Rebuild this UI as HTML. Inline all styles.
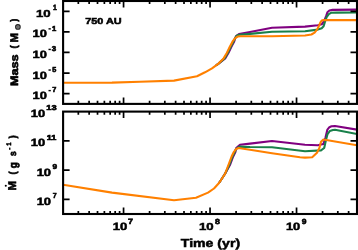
<!DOCTYPE html><html><head><meta charset="utf-8"><style>html,body{margin:0;padding:0;background:#fff;}body{width:358px;height:250px;overflow:hidden;}svg{display:block;will-change:transform;}text{font-family:"Liberation Sans",sans-serif;font-weight:bold;fill:#000;stroke:#000;stroke-width:0.5px;text-rendering:geometricPrecision;}</style></head><body>
<svg width="358" height="250" viewBox="0 0 358 250">
<rect x="0" y="0" width="358" height="250" fill="#fff"/>
<defs><clipPath id="c1"><rect x="63.10" y="1.00" width="293.90" height="102.90"/></clipPath><clipPath id="c2"><rect x="63.10" y="111.60" width="293.90" height="102.40"/></clipPath></defs>
<g clip-path="url(#c1)">
<polyline points="216.00,65.50 218.50,63.60 225.20,58.40 228.40,53.00 231.40,46.80 234.20,41.40 235.20,38.10 236.40,35.80 239.00,34.00 250.00,32.00 272.00,27.70 305.00,26.60 317.80,25.30 321.70,24.30 324.20,21.00 326.20,15.90 327.40,12.20 329.40,10.50 332.50,9.90 357.00,9.60" fill="none" stroke="#800080" stroke-width="2.10" stroke-linejoin="round" stroke-linecap="butt"/>
<polyline points="216.00,65.50 218.50,63.60 224.50,58.40 227.70,53.00 230.70,46.80 233.50,41.40 235.20,38.10 236.40,36.00 239.00,34.80 250.00,33.90 272.00,31.80 305.00,31.30 317.80,29.60 321.70,28.20 323.60,26.30 324.90,21.90 326.60,17.20 328.80,14.10 331.00,12.80 337.00,12.60 357.00,12.50" fill="none" stroke="#19804a" stroke-width="2.10" stroke-linejoin="round" stroke-linecap="butt"/>
<polyline points="63.00,82.80 112.00,82.60 140.00,81.70 174.00,80.60 197.00,76.30 205.00,72.30 212.00,68.40 218.50,63.60 223.60,58.40 226.80,53.00 229.80,46.80 232.60,41.40 235.20,38.10 237.80,36.50 240.50,36.20 272.00,36.30 305.00,35.50 311.40,34.50 314.60,32.60 317.20,29.40 319.10,25.50 320.40,22.30 321.70,20.60 323.60,20.10 357.00,20.10" fill="none" stroke="#ff8000" stroke-width="2.10" stroke-linejoin="round" stroke-linecap="butt"/>
</g>
<g clip-path="url(#c2)">
<polyline points="219.00,183.00 222.00,178.50 225.20,173.50 230.20,164.50 233.20,156.50 235.40,152.00 236.20,148.00 240.00,144.80 250.00,143.60 272.00,141.00 305.00,144.80 317.80,145.30 323.40,144.00 325.50,137.60 327.40,129.60 329.40,127.20 331.50,126.30 335.00,126.00 357.00,129.60" fill="none" stroke="#800080" stroke-width="2.10" stroke-linejoin="round" stroke-linecap="butt"/>
<polyline points="219.00,183.00 222.00,178.50 225.20,173.50 229.50,164.50 232.50,156.50 234.70,152.00 236.00,149.00 239.50,146.60 250.00,147.00 272.00,147.30 305.00,151.20 321.00,150.40 324.20,148.00 325.80,140.80 327.40,134.40 329.80,131.00 333.00,130.00 335.00,129.80 357.00,134.00" fill="none" stroke="#19804a" stroke-width="2.10" stroke-linejoin="round" stroke-linecap="butt"/>
<polyline points="63.00,184.80 112.00,192.60 174.00,200.30 196.00,197.70 208.00,192.60 214.00,188.50 219.00,183.00 222.00,178.50 225.20,173.50 228.60,164.50 231.60,156.50 233.80,152.00 235.80,149.30 238.50,148.00 250.00,149.80 272.00,153.20 300.00,157.30 305.00,157.60 312.20,157.30 317.00,152.80 319.40,148.00 321.00,141.80 323.40,139.50 357.00,145.30" fill="none" stroke="#ff8000" stroke-width="2.10" stroke-linejoin="round" stroke-linecap="butt"/>
</g>
<path d="M78.33 1.00V4.10M78.33 103.90V100.80M89.14 1.00V4.10M89.14 103.90V100.80M97.52 1.00V4.10M97.52 103.90V100.80M104.37 1.00V4.10M104.37 103.90V100.80M110.16 1.00V4.10M110.16 103.90V100.80M115.17 1.00V4.10M115.17 103.90V100.80M119.60 1.00V4.10M119.60 103.90V100.80M123.56 1.00V7.50M123.56 103.90V97.40M149.59 1.00V4.10M149.59 103.90V100.80M164.82 1.00V4.10M164.82 103.90V100.80M175.63 1.00V4.10M175.63 103.90V100.80M184.01 1.00V4.10M184.01 103.90V100.80M190.86 1.00V4.10M190.86 103.90V100.80M196.65 1.00V4.10M196.65 103.90V100.80M201.67 1.00V4.10M201.67 103.90V100.80M206.09 1.00V4.10M206.09 103.90V100.80M210.05 1.00V7.50M210.05 103.90V97.40M236.09 1.00V4.10M236.09 103.90V100.80M251.32 1.00V4.10M251.32 103.90V100.80M262.12 1.00V4.10M262.12 103.90V100.80M270.51 1.00V4.10M270.51 103.90V100.80M277.36 1.00V4.10M277.36 103.90V100.80M283.15 1.00V4.10M283.15 103.90V100.80M288.16 1.00V4.10M288.16 103.90V100.80M292.59 1.00V4.10M292.59 103.90V100.80M296.54 1.00V7.50M296.54 103.90V97.40M322.58 1.00V4.10M322.58 103.90V100.80M337.81 1.00V4.10M337.81 103.90V100.80M348.62 1.00V4.10M348.62 103.90V100.80M78.33 111.60V114.70M78.33 214.00V210.90M89.14 111.60V114.70M89.14 214.00V210.90M97.52 111.60V114.70M97.52 214.00V210.90M104.37 111.60V114.70M104.37 214.00V210.90M110.16 111.60V114.70M110.16 214.00V210.90M115.17 111.60V114.70M115.17 214.00V210.90M119.60 111.60V114.70M119.60 214.00V210.90M123.56 111.60V118.10M123.56 214.00V207.50M149.59 111.60V114.70M149.59 214.00V210.90M164.82 111.60V114.70M164.82 214.00V210.90M175.63 111.60V114.70M175.63 214.00V210.90M184.01 111.60V114.70M184.01 214.00V210.90M190.86 111.60V114.70M190.86 214.00V210.90M196.65 111.60V114.70M196.65 214.00V210.90M201.67 111.60V114.70M201.67 214.00V210.90M206.09 111.60V114.70M206.09 214.00V210.90M210.05 111.60V118.10M210.05 214.00V207.50M236.09 111.60V114.70M236.09 214.00V210.90M251.32 111.60V114.70M251.32 214.00V210.90M262.12 111.60V114.70M262.12 214.00V210.90M270.51 111.60V114.70M270.51 214.00V210.90M277.36 111.60V114.70M277.36 214.00V210.90M283.15 111.60V114.70M283.15 214.00V210.90M288.16 111.60V114.70M288.16 214.00V210.90M292.59 111.60V114.70M292.59 214.00V210.90M296.54 111.60V118.10M296.54 214.00V207.50M322.58 111.60V114.70M322.58 214.00V210.90M337.81 111.60V114.70M337.81 214.00V210.90M348.62 111.60V114.70M348.62 214.00V210.90M63.10 11.29H69.60M357.00 11.29H350.50M63.10 31.87H69.60M357.00 31.87H350.50M63.10 52.45H69.60M357.00 52.45H350.50M63.10 73.03H69.60M357.00 73.03H350.50M63.10 93.61H69.60M357.00 93.61H350.50M63.10 140.86H69.60M357.00 140.86H350.50M63.10 170.11H69.60M357.00 170.11H350.50M63.10 199.37H69.60M357.00 199.37H350.50" stroke="#000" stroke-width="1.70" fill="none"/>
<rect x="63.10" y="1.00" width="293.90" height="102.90" fill="none" stroke="#000" stroke-width="2.10"/>
<rect x="63.10" y="111.60" width="293.90" height="102.40" fill="none" stroke="#000" stroke-width="2.10"/>
<g>
<text x="36.04" y="16.50" font-size="10.20" textLength="14.68" lengthAdjust="spacingAndGlyphs">10</text>
<text x="53.08" y="9.50" font-size="7.50" textLength="3.77" lengthAdjust="spacingAndGlyphs" style="stroke-width:0.60px">1</text>
<text x="32.61" y="36.50" font-size="10.51" textLength="14.34" lengthAdjust="spacingAndGlyphs">10</text>
<text x="52.07" y="30.50" font-size="7.23" textLength="4.23" lengthAdjust="spacingAndGlyphs" style="stroke-width:0.60px">1</text>
<text x="32.61" y="57.50" font-size="10.51" textLength="14.34" lengthAdjust="spacingAndGlyphs">10</text>
<text x="51.86" y="50.50" font-size="7.06" textLength="4.42" lengthAdjust="spacingAndGlyphs" style="stroke-width:0.60px">3</text>
<text x="32.61" y="78.50" font-size="10.51" textLength="14.34" lengthAdjust="spacingAndGlyphs">10</text>
<text x="52.29" y="71.50" font-size="7.16" textLength="4.05" lengthAdjust="spacingAndGlyphs" style="stroke-width:0.60px">5</text>
<text x="32.61" y="98.50" font-size="10.51" textLength="14.34" lengthAdjust="spacingAndGlyphs">10</text>
<text x="52.32" y="91.50" font-size="7.29" textLength="4.08" lengthAdjust="spacingAndGlyphs" style="stroke-width:0.60px">7</text>
<text x="30.74" y="116.50" font-size="10.47" textLength="14.44" lengthAdjust="spacingAndGlyphs">10</text>
<text x="46.34" y="109.50" font-size="7.05" textLength="10.33" lengthAdjust="spacingAndGlyphs" style="stroke-width:0.60px">13</text>
<text x="30.74" y="145.50" font-size="10.47" textLength="14.44" lengthAdjust="spacingAndGlyphs">10</text>
<text x="46.79" y="139.50" font-size="7.16" textLength="9.62" lengthAdjust="spacingAndGlyphs" style="stroke-width:0.60px">11</text>
<text x="36.67" y="175.50" font-size="10.51" textLength="14.39" lengthAdjust="spacingAndGlyphs">10</text>
<text x="52.57" y="168.50" font-size="6.99" textLength="4.60" lengthAdjust="spacingAndGlyphs" style="stroke-width:0.60px">9</text>
<text x="36.67" y="204.50" font-size="10.51" textLength="14.39" lengthAdjust="spacingAndGlyphs">10</text>
<text x="52.66" y="197.50" font-size="7.30" textLength="3.90" lengthAdjust="spacingAndGlyphs" style="stroke-width:0.60px">7</text>
<text x="112.67" y="229.50" font-size="10.50" textLength="14.61" lengthAdjust="spacingAndGlyphs">10</text>
<text x="128.14" y="223.50" font-size="7.55" textLength="5.03" lengthAdjust="spacingAndGlyphs" style="stroke-width:0.60px">7</text>
<text x="199.04" y="229.50" font-size="10.20" textLength="14.68" lengthAdjust="spacingAndGlyphs">10</text>
<text x="214.92" y="223.50" font-size="7.42" textLength="4.90" lengthAdjust="spacingAndGlyphs" style="stroke-width:0.60px">8</text>
<text x="285.93" y="229.50" font-size="10.50" textLength="14.36" lengthAdjust="spacingAndGlyphs">10</text>
<text x="301.85" y="223.50" font-size="7.33" textLength="4.70" lengthAdjust="spacingAndGlyphs" style="stroke-width:0.60px">9</text>
<text x="180.80" y="247.40" font-size="11.60" textLength="59.29" lengthAdjust="spacingAndGlyphs">Time (yr)</text>
<text x="85.31" y="23.50" font-size="8.61" textLength="36.38" lengthAdjust="spacingAndGlyphs">750 AU</text>
</g>
<g transform="rotate(-90)">
<text x="-85.99" y="17.50" font-size="10.69" textLength="31.64" lengthAdjust="spacingAndGlyphs" style="stroke-width:0.65px">Mass</text>
<text x="-42.57" y="17.50" font-size="10.98" textLength="9.50" lengthAdjust="spacingAndGlyphs" style="stroke-width:0.65px">M</text>
<text x="-48.14" y="16.50" font-size="9.30" textLength="2.68" lengthAdjust="spacingAndGlyphs" style="stroke-width:0.90px">(</text>
<text x="-21.42" y="16.50" font-size="9.29" textLength="2.63" lengthAdjust="spacingAndGlyphs" style="stroke-width:0.90px">)</text>
<text x="-190.44" y="15.50" font-size="11.23" textLength="9.52" lengthAdjust="spacingAndGlyphs" style="stroke-width:0.65px">M</text>
<text x="-174.19" y="15.50" font-size="9.83" textLength="2.60" lengthAdjust="spacingAndGlyphs" style="stroke-width:0.90px">(</text>
<text x="-168.22" y="16.50" font-size="11.20" textLength="6.04" lengthAdjust="spacingAndGlyphs" style="stroke-width:0.65px">g</text>
<text x="-156.00" y="15.50" font-size="9.55" textLength="4.69" lengthAdjust="spacingAndGlyphs" style="stroke-width:0.65px">s</text>
<text x="-145.56" y="10.50" font-size="6.54" textLength="2.96" lengthAdjust="spacingAndGlyphs" style="stroke-width:0.65px">1</text>
<text x="-138.36" y="15.50" font-size="9.83" textLength="2.85" lengthAdjust="spacingAndGlyphs" style="stroke-width:0.90px">)</text>
</g>
<rect x="48.5" y="28.17" width="2.3" height="1.4" fill="#000"/>
<rect x="48.5" y="48.75" width="2.3" height="1.4" fill="#000"/>
<rect x="48.5" y="69.33" width="2.3" height="1.4" fill="#000"/>
<rect x="48.5" y="89.91" width="2.3" height="1.4" fill="#000"/>
<rect x="9.05" y="147.6" width="1.4" height="2.2" fill="#000"/>
<circle cx="5.8" cy="185.7" r="1.05" fill="#000"/>
<circle cx="17.9" cy="26.9" r="2.3" fill="#8a8a8a" stroke="#222" stroke-width="1.1"/>
<circle cx="17.9" cy="26.9" r="0.6" fill="#333"/>
</svg></body></html>
